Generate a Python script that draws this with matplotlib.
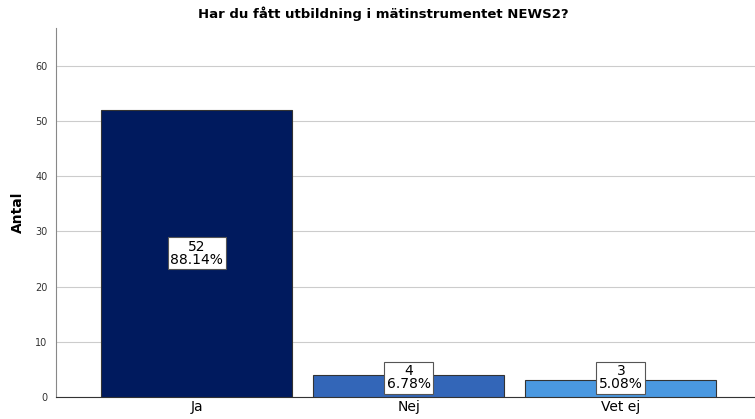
import matplotlib.pyplot as plt

# data
kategorier = ['Ja', 'Nej', 'Vet ej']
antal = [52, 4, 3]
procent = ['88.14%', '6.78%', '5.08%']
farger = ['#001a5e', '#3366b8', '#4a98e0']

fig = plt.figure(figsize=(7.55, 4.19), dpi=100)
ax = fig.add_axes([56/755, 22/419, 1 - 56/755, (397-28)/419])

x = range(len(kategorier))
ax.bar(x, antal, width=0.9, color=farger, edgecolor='#333333', linewidth=0.8, zorder=3)

for i, v in enumerate(antal):
    ypos = max(v / 2, 3.5)
    ax.text(i, ypos, f"{v}\n{procent[i]}", ha='center', va='center', fontsize=10,
            linespacing=0.9, zorder=4,
            bbox=dict(boxstyle='square,pad=0.18', facecolor='white', edgecolor='#555555', linewidth=0.8))

ax.set_xlim(-0.663, 2.632)
ax.set_ylim(0, 66.8)
ax.set_yticks([0, 10, 20, 30, 40, 50, 60])
ax.set_xticks(list(x))
ax.set_xticklabels(kategorier, fontsize=10)
ax.tick_params(axis='y', labelsize=7, length=0, pad=6, labelcolor='#333333')
ax.tick_params(axis='x', length=0, pad=2)
ax.yaxis.grid(True, color='#cccccc', linewidth=0.8, zorder=0)
for s in ['top', 'right']:
    ax.spines[s].set_visible(False)
ax.spines['left'].set_color('#888888')
ax.spines['bottom'].set_color('#333333')

ax.set_ylabel('Antal', fontsize=10, fontweight='bold')
ax.yaxis.set_label_coords(-31/699, 0.5)
fig.text(383/755, 1 - 14/419, 'Har du fått utbildning i mätinstrumentet NEWS2?',
         ha='center', va='center', fontsize=9.5, fontweight='bold')

fig.savefig('out.png', dpi=100)
